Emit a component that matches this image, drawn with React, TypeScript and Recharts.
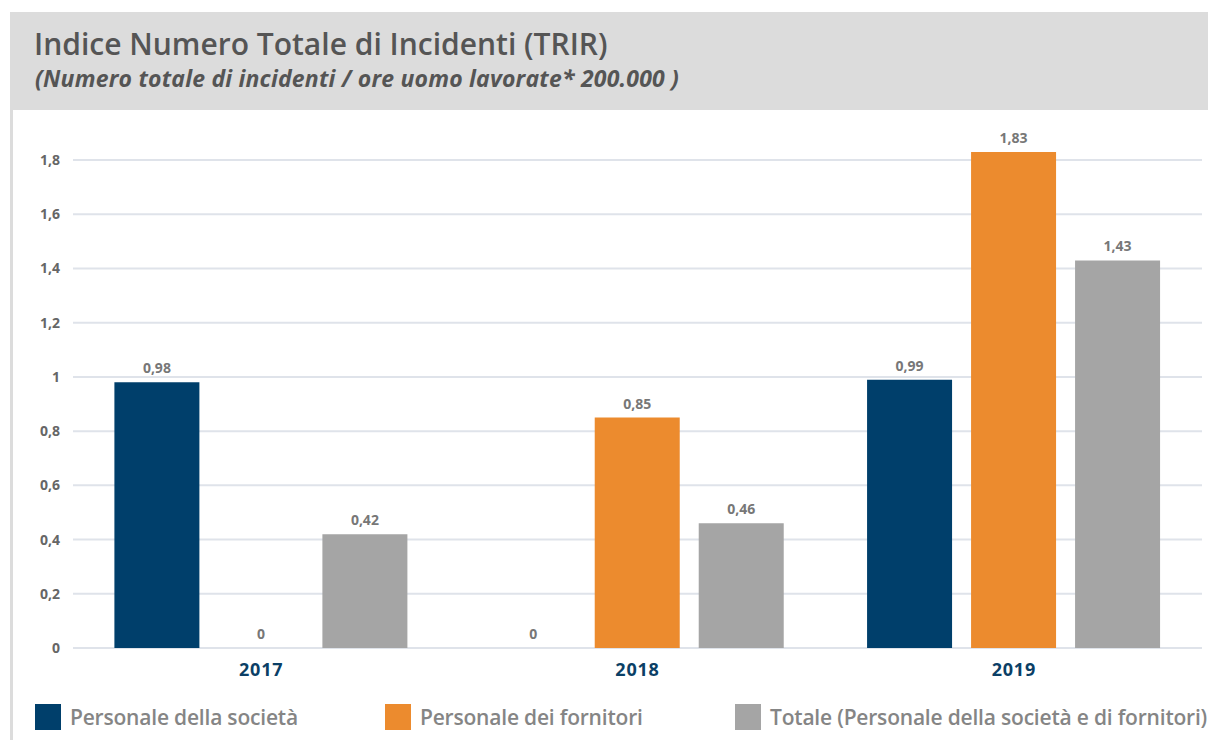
import React from "react";
import { BarChart, Bar, XAxis, YAxis, CartesianGrid, LabelList } from "recharts";

const categories = ["2017", "2018", "2019"];
const societa = [0.98, 0, 0.99];
const fornitori = [0, 0.85, 1.83];
const totale = [0.42, 0.46, 1.43];
const yTicks = [0, 0.2, 0.4, 0.6, 0.8, 1, 1.2, 1.4, 1.6, 1.8];
const yDomain = [0, 1.9];
const seriesNames = [
  "Personale della società",
  "Personale dei fornitori",
  "Totale (Personale della società e di fornitori)",
];
const seriesKeys = ["societa", "fornitori", "totale"];
const seriesColors = ["#003f6b", "#ec8b2e", "#a5a5a5"];

const data = categories.map((c, i) => ({
  year: c,
  societa: societa[i],
  fornitori: fornitori[i],
  totale: totale[i],
}));

const fmt = (v: any) => String(v).replace(".", ",");
const FONT = "'Open Sans', 'Noto Sans', sans-serif";

const gridGen = (props: any) => {
  const yAxis = props && props.yAxis;
  const s = yAxis && yAxis.scale;
  if (typeof s === "function") return yTicks.map((t) => s(t));
  if (s && typeof s.map === "function") return yTicks.map((t) => s.map(t));
  const off = props.offset || {};
  const d = (yAxis && Array.isArray(yAxis.domain) && yAxis.domain) || yDomain;
  return yTicks.map((t) => off.top + off.height * (1 - (t - d[0]) / (d[1] - d[0])));
};

export default function App() {
  return (
    <div style={{ position: "absolute", left: 0, top: 0, width: 1208, height: 740, background: "#fff", fontFamily: FONT, overflow: "hidden" }}>
      <div style={{ position: "absolute", left: 10, top: 12, width: 1198, height: 98, background: "#dcdcdc" }} />
      <div style={{ position: "absolute", left: 10, top: 110, width: 3, height: 630, background: "#dcdcdc" }} />
      <div style={{ position: "absolute", left: 34, top: 27, fontSize: 30, lineHeight: "34px", fontWeight: 600, color: "#555", letterSpacing: 0, whiteSpace: "nowrap" }}>
        Indice Numero Totale di Incidenti (TRIR)
      </div>
      <div style={{ position: "absolute", left: 35, top: 65, fontSize: 23, lineHeight: "26px", fontWeight: 700, fontStyle: "italic", color: "#555", letterSpacing: 0.2, whiteSpace: "nowrap" }}>
        (Numero totale di incidenti / ore uomo lavorate* 200.000 )
      </div>
      <div style={{ position: "absolute", left: 0, top: 0 }}>
        <BarChart
          width={1208}
          height={740}
          data={data}
          margin={{ top: 133, right: 6, bottom: 62, left: 0 }}
          barCategoryGap="11%"
          barGap={19}
        >
          <CartesianGrid
            horizontal
            vertical={false}
            stroke="#dfe3ea"
            strokeWidth={2}
            horizontalCoordinatesGenerator={gridGen}
          />
          <XAxis
            dataKey="year"
            axisLine={false}
            tickLine={false}
            tickMargin={9}
            tick={{ fill: "#0b3f66", fontSize: 18, fontWeight: 700, fontFamily: FONT, letterSpacing: 0.8 }}
          />
          <YAxis
            width={73}
            domain={yDomain}
            ticks={yTicks}
            axisLine={false}
            tickLine={false}
            tickSize={8}
            tickMargin={5}
            tickFormatter={fmt}
            tick={{ fill: "#666", fontSize: 14, fontWeight: 700, fontFamily: FONT }}
          />
          {seriesKeys.map((k, i) => (
            <Bar key={k} dataKey={k} name={seriesNames[i]} fill={seriesColors[i]} minPointSize={0.01} isAnimationActive={false}>
              <LabelList
                dataKey={k}
                position="top"
                offset={9}
                formatter={fmt}
                style={{ fill: "#777", fontSize: 14, fontWeight: 700, fontFamily: FONT }}
              />
            </Bar>
          ))}
        </BarChart>
      </div>
      {seriesNames.map((n, i) => (
        <div key={n} style={{ position: "absolute", left: 35 + i * 350, top: 704, height: 26, display: "flex", alignItems: "center", whiteSpace: "nowrap" }}>
          <div style={{ width: 26, height: 26, background: seriesColors[i] }} />
          <span style={{ marginLeft: 9, fontSize: 21, fontWeight: 600, color: "#858585", letterSpacing: -0.2 }}>{n}</span>
        </div>
      ))}
    </div>
  );
}
